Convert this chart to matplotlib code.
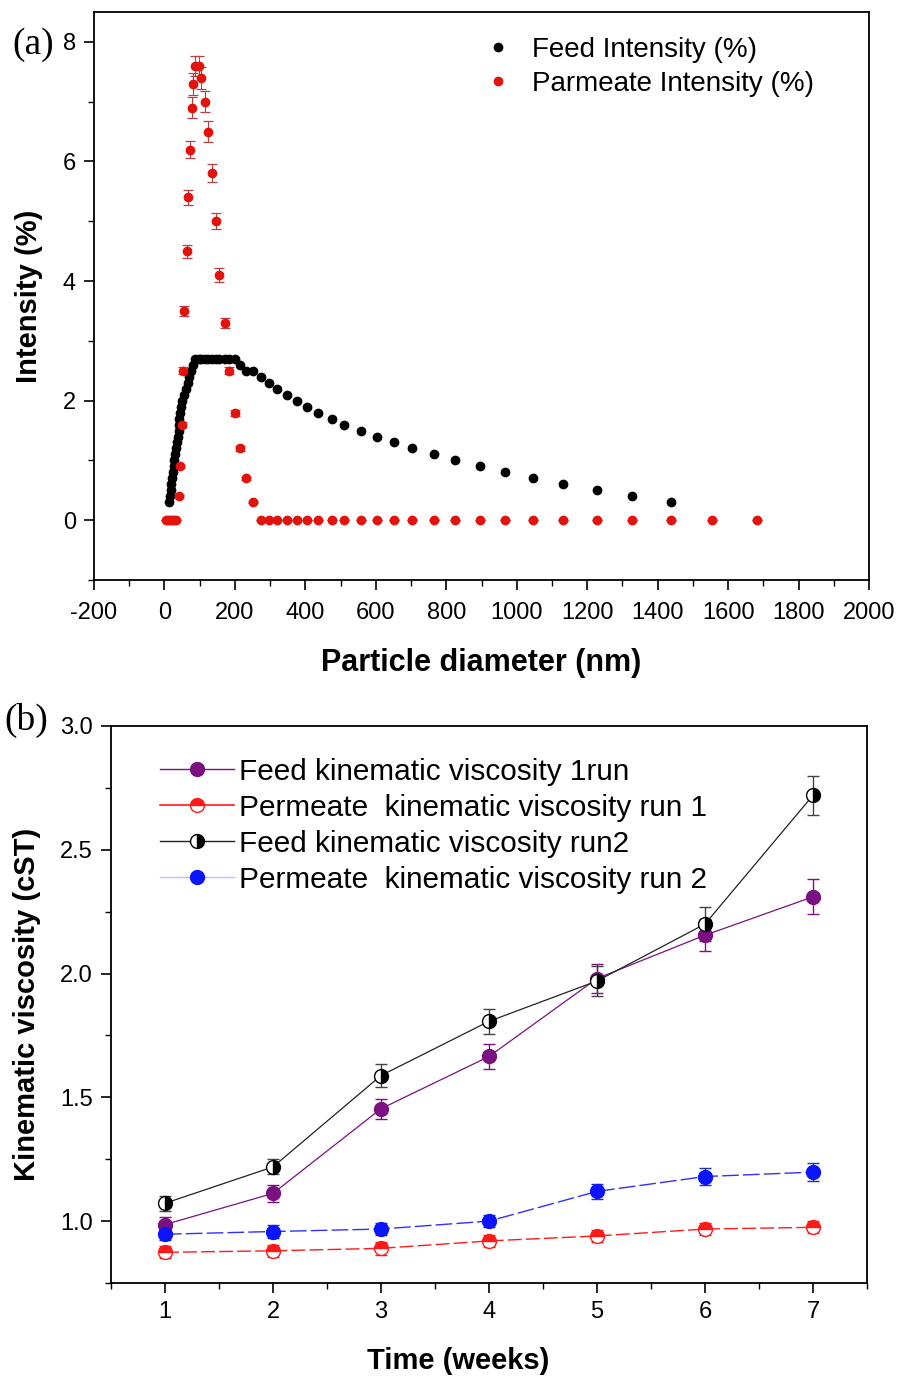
import matplotlib
matplotlib.use("Agg")
import matplotlib.pyplot as plt
from matplotlib.lines import Line2D
from matplotlib.ticker import MultipleLocator, FormatStrFormatter

plt.rcParams["font.family"] = ["Liberation Sans", "DejaVu Sans"]
plt.rcParams["axes.unicode_minus"] = False

# ---- panel (a): DLS intensity distributions ----
feed_x = [14, 16, 18, 20, 22, 24, 26, 28, 31, 33, 36, 38, 40, 41, 42, 44, 47, 50,
          55, 61, 66, 71, 76, 81, 88, 97, 105, 115, 124, 134, 145, 156, 172, 184,
          200, 214, 231, 252, 273, 297, 320, 347, 375, 405, 436, 475, 511, 557,
          603, 651, 704, 764, 825, 895, 966, 1045, 1132, 1227, 1327, 1437]
feed_y = [0.3, 0.4, 0.5, 0.6, 0.7, 0.8, 0.9, 1.0, 1.1, 1.2, 1.3, 1.4, 1.5, 1.6,
          1.7, 1.8, 1.9, 2.0, 2.1, 2.2, 2.3, 2.4, 2.5, 2.6, 2.7, 2.7, 2.7, 2.7,
          2.7, 2.7, 2.7, 2.7, 2.7, 2.7, 2.7, 2.6, 2.5, 2.5, 2.4, 2.3, 2.2, 2.1,
          2.0, 1.9, 1.8, 1.7, 1.6, 1.5, 1.4, 1.3, 1.2, 1.1, 1.0, 0.9, 0.8, 0.7,
          0.6, 0.5, 0.4, 0.3]
feed_err = 0.02

perm_x = [4, 10, 16, 22, 28, 34, 41, 44, 49, 52, 56, 63, 68, 72, 77, 82, 88, 97,
          105, 115, 124, 134, 145, 156, 172, 184, 200, 214, 231, 252, 273, 297,
          320, 347, 375, 405, 436, 475, 511, 557, 603, 651, 704, 764, 825, 895,
          966, 1045, 1132, 1227, 1327, 1437, 1553, 1681]
perm_y = [0, 0, 0, 0, 0, 0, 0.4, 0.9, 1.6, 2.5, 3.5, 4.5, 5.4, 6.2, 6.9, 7.3,
          7.6, 7.6, 7.4, 7.0, 6.5, 5.8, 5.0, 4.1, 3.3, 2.5, 1.8, 1.2, 0.7, 0.3,
          0, 0, 0, 0, 0, 0, 0, 0, 0, 0, 0, 0, 0, 0, 0, 0, 0, 0, 0, 0, 0, 0, 0, 0]
perm_err = [0, 0, 0, 0, 0, 0, 0.02, 0.03, 0.04, 0.06, 0.08, 0.11, 0.13, 0.15,
            0.17, 0.18, 0.17, 0.17, 0.18, 0.18, 0.17, 0.15, 0.13, 0.11, 0.08,
            0.06, 0.05, 0.04, 0.03, 0.02,
            0, 0, 0, 0, 0, 0, 0, 0, 0, 0, 0, 0, 0, 0, 0, 0, 0, 0, 0, 0, 0, 0, 0, 0]

# ---- panel (b): kinematic viscosity vs time ----
weeks = [1, 2, 3, 4, 5, 6, 7]
feed1 = [0.986, 1.112, 1.454, 1.665, 1.98, 2.155, 2.31]
feed1_err = [0.03, 0.035, 0.04, 0.05, 0.06, 0.065, 0.07]
perm1 = [0.874, 0.88, 0.89, 0.92, 0.94, 0.968, 0.975]
perm1_err = [0.025, 0.025, 0.025, 0.025, 0.025, 0.025, 0.025]
feed2 = [1.072, 1.219, 1.588, 1.807, 1.97, 2.20, 2.72]
feed2_err = [0.03, 0.03, 0.045, 0.05, 0.06, 0.07, 0.08]
perm2 = [0.947, 0.958, 0.968, 1.0, 1.12, 1.18, 1.198]
perm2_err = [0.025, 0.025, 0.025, 0.025, 0.03, 0.035, 0.035]

PURPLE = "#7b1080"
RED = "#ff1a1a"
BLUE = "#0a14ff"

W, H = 899, 1378
fig = plt.figure(figsize=(W / 100, H / 100), dpi=100)

TICK_FS = 17
LABEL_FS = 21

# panel (a)
ax1 = fig.add_axes([94 / W, 1 - 580 / H, (869 - 94) / W, (580 - 12) / H])
ax1.errorbar(feed_x, feed_y, yerr=feed_err, fmt="o", color="black", ms=6,
             ecolor="black", elinewidth=0.8, capsize=3, capthick=0.8)
ax1.errorbar(perm_x, perm_y, yerr=perm_err, fmt="o", color="#e3120b", ms=6,
             ecolor="#b84040", elinewidth=0.8, capsize=3.5, capthick=0.9)
ax1.set_xlim(-200, 2000)
ax1.set_ylim(-1, 8.5)
ax1.xaxis.set_major_locator(MultipleLocator(200))
ax1.xaxis.set_minor_locator(MultipleLocator(100))
ax1.yaxis.set_major_locator(MultipleLocator(2))
ax1.yaxis.set_minor_locator(MultipleLocator(1))
ax1.set_xlabel("Particle diameter (nm)", fontsize=LABEL_FS + 1, fontweight="bold",
               labelpad=17)
ax1.set_ylabel("Intensity (%)", fontsize=LABEL_FS, fontweight="bold", labelpad=14)
h_a = [Line2D([], [], ls="none", marker="o", ms=6, color="black"),
       Line2D([], [], ls="none", marker="o", ms=6, color="#e3120b")]
ax1.legend(h_a, ["Feed Intensity (%)", "Parmeate Intensity (%)"],
           loc="upper left", bbox_to_anchor=(0.503, 0.956), frameon=False,
           fontsize=20, handlelength=1.0, handletextpad=0.75, labelspacing=0.28,
           borderaxespad=0, borderpad=0, numpoints=1)

# panel (b)
ax2 = fig.add_axes([111 / W, 1 - 1283 / H, (867 - 111) / W, (1283 - 726) / H])
ax2.errorbar(weeks, feed1, yerr=feed1_err, color=PURPLE, lw=0.9,
             marker="o", ms=10, mfc=PURPLE, mec=PURPLE, ecolor=PURPLE,
             elinewidth=1.0, capsize=4, capthick=1.0)
ax2.errorbar(weeks, perm1, yerr=perm1_err, color=RED, lw=1.0, ls=(0, (10, 3)),
             marker="o", ms=10, fillstyle="top", mfc=RED, mfcalt="white",
             mec=RED, ecolor=RED, elinewidth=1.0, capsize=4, capthick=1.0)
ax2.errorbar(weeks, feed2, yerr=feed2_err, color="#222222", lw=0.9,
             marker="o", ms=10, fillstyle="right", mfc="black", mfcalt="white",
             mec="black", ecolor="#444444", elinewidth=1.0, capsize=4,
             capthick=1.0)
ax2.errorbar(weeks, perm2, yerr=perm2_err, color="#3030ff", lw=1.0, ls=(0, (12, 3)),
             marker="o", ms=10, mfc=BLUE, mec=BLUE, ecolor="#2030c0",
             elinewidth=1.0, capsize=4, capthick=1.0)
ax2.set_xlim(0.5, 7.5)
ax2.set_ylim(0.75, 3.0)
ax2.xaxis.set_major_locator(MultipleLocator(1))
ax2.xaxis.set_minor_locator(MultipleLocator(0.5))
ax2.yaxis.set_major_locator(MultipleLocator(0.5))
ax2.yaxis.set_minor_locator(MultipleLocator(0.25))
ax2.yaxis.set_major_formatter(FormatStrFormatter("%.1f"))
ax2.set_xlabel("Time (weeks)", fontsize=LABEL_FS, fontweight="bold")
ax2.xaxis.set_label_coords(0.459, -0.115)
ax2.set_ylabel("Kinematic viscosity (cST)", fontsize=LABEL_FS, fontweight="bold",
               labelpad=14)
h_b = [Line2D([], [], color=PURPLE, lw=1.0, marker="o", ms=10, mfc=PURPLE, mec=PURPLE),
       Line2D([], [], color=RED, lw=1.2, marker="o", ms=10, fillstyle="top",
              mfc=RED, mfcalt="white", mec=RED),
       Line2D([], [], color="#222222", lw=1.0, marker="o", ms=10, fillstyle="right",
              mfc="black", mfcalt="white", mec="black"),
       Line2D([], [], color="#b8c0ff", lw=1.0, marker="o", ms=10, mfc=BLUE, mec=BLUE)]
ax2.legend(h_b, ["Feed kinematic viscosity 1run",
                 "Permeate  kinematic viscosity run 1",
                 "Feed kinematic viscosity run2",
                 "Permeate  kinematic viscosity run 2"],
           loc="upper left", bbox_to_anchor=(0.065, 0.943), frameon=False,
           fontsize=21.4, handlelength=2.5, handletextpad=0.15, labelspacing=0.27,
           borderaxespad=0, borderpad=0)

for ax in (ax1, ax2):
    ax.tick_params(which="major", direction="out", length=7, width=1.2,
                   labelsize=TICK_FS, top=False, right=False, pad=6)
    ax.tick_params(which="minor", direction="out", length=4, width=1.0,
                   top=False, right=False)
    for s in ax.spines.values():
        s.set_linewidth(1.3)
ax1.tick_params(axis="x", which="major", pad=9)

fig.text(12 / W, 1 - 45 / H, "(a)", fontsize=27, family="Liberation Serif", va="center")
fig.text(4 / W, 1 - 720 / H, "(b)", fontsize=27, family="Liberation Serif", va="center")

fig.savefig("out.png", dpi=100)
